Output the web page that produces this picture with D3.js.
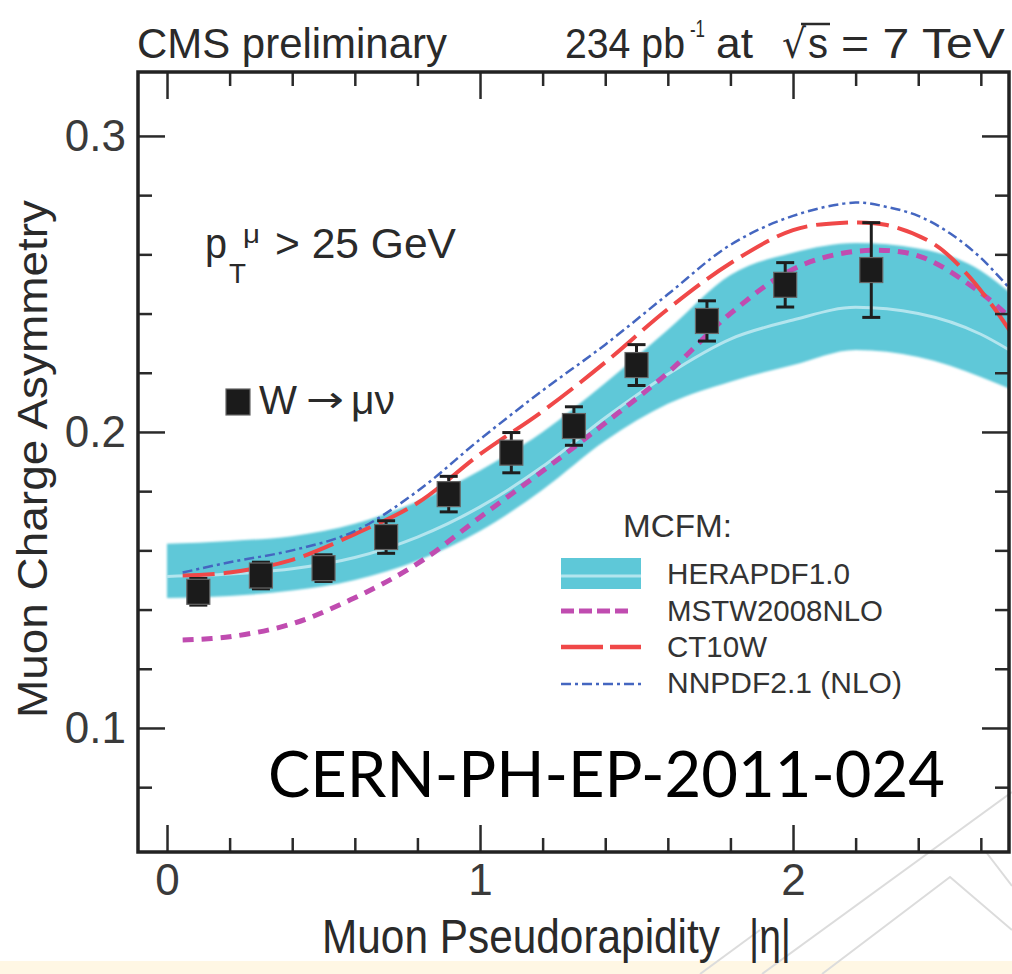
<!DOCTYPE html>
<html><head><meta charset="utf-8">
<script src="https://cdn.jsdelivr.net/npm/d3@7"></script>
<style>
body{margin:0;background:#fff;}
svg{display:block;}
</style>
</head><body>
<svg id="c" width="1012" height="974" font-family="'Liberation Sans',Arial,Helvetica,sans-serif"></svg>
<script>
// ---------------- DATA ----------------
// HERAPDF1.0 band (MCFM)
const bandEta  = [0, 0.2, 0.4, 0.6, 0.8, 1.0, 1.2, 1.4, 1.6, 1.8, 2.0, 2.2, 2.4, 2.6, 2.7];
const bandHigh = [0.1622, 0.1632, 0.1648, 0.1690, 0.1765, 0.1870, 0.2000, 0.2165, 0.2345, 0.2530, 0.2605, 0.2638, 0.2620, 0.2545, 0.2465];
const bandLow  = [0.1439, 0.1446, 0.1464, 0.1500, 0.1565, 0.1665, 0.1805, 0.1970, 0.2095, 0.2170, 0.2226, 0.2277, 0.2253, 0.2186, 0.2142];
const bandMid  = [0.1512, 0.1520, 0.1538, 0.1576, 0.1645, 0.1747, 0.1883, 0.2048, 0.2195, 0.2314, 0.2378, 0.2421, 0.2400, 0.2330, 0.2271];
// MSTW2008NLO
const mstwEta = [0.05, 0.2, 0.4, 0.6, 0.8, 1.0, 1.2, 1.4, 1.6, 1.8, 2.0, 2.2, 2.4, 2.6, 2.7];
const mstwVal = [0.1297, 0.1308, 0.1352, 0.1440, 0.1555, 0.1712, 0.1868, 0.2030, 0.2200, 0.2400, 0.2550, 0.2610, 0.2595, 0.2470, 0.2380];
// CT10W
const ct10Eta = [0.05, 0.2, 0.4, 0.6, 0.8, 1.0, 1.2, 1.4, 1.6, 1.8, 2.0, 2.15, 2.3, 2.45, 2.55, 2.64, 2.7];
const ct10Val = [0.1515, 0.1525, 0.1568, 0.1655, 0.1760, 0.1925, 0.2070, 0.2235, 0.2415, 0.2570, 0.2682, 0.2706, 0.2699, 0.2635, 0.2540, 0.2422, 0.2330];
// NNPDF2.1 (NLO)
const nnEta = [0.05, 0.2, 0.4, 0.6, 0.8, 1.0, 1.2, 1.4, 1.6, 1.8, 2.0, 2.2, 2.3, 2.4, 2.5, 2.6, 2.7];
const nnVal = [0.1525, 0.1560, 0.1600, 0.1665, 0.1800, 0.1975, 0.2140, 0.2295, 0.2465, 0.2632, 0.2730, 0.2775, 0.2760, 0.2730, 0.2672, 0.2588, 0.2475];
// W -> mu nu data
const dataEta = [0.1, 0.3, 0.5, 0.7, 0.9, 1.1, 1.3, 1.5, 1.725, 1.975, 2.25];
const dataVal = [0.1460, 0.1515, 0.1540, 0.1645, 0.1790, 0.1930, 0.2020, 0.2226, 0.2375, 0.2497, 0.2547];
const dataErr = [0.0045, 0.0045, 0.0045, 0.0055, 0.0060, 0.0068, 0.0065, 0.0069, 0.0068, 0.0075, 0.0160];
// ticks
const xMajor = [0, 1, 2];
const xMinor = [0.2, 0.4, 0.6, 0.8, 1.2, 1.4, 1.6, 1.8, 2.2, 2.4, 2.6];
const yMajor = [0.1, 0.2, 0.3];
const yMinor = [0.08, 0.12, 0.14, 0.16, 0.18, 0.22, 0.24, 0.26, 0.28];
const legendNames = ["HERAPDF1.0", "MSTW2008NLO", "CT10W", "NNPDF2.1 (NLO)"];

// ---------------- COLOURS ----------------
const cBand = "#5ec8d8", cBandMid = "#b3e5ee", cMstw = "#c04cb0", cCt10 = "#f04848", cNn = "#4466c0";

const svg = d3.select("#c");
const L = 138, R = 1009, T = 72, B = 852;
const x = d3.scaleLinear().domain([-0.0927, 2.69]).range([L, R]);
const y = d3.scaleLinear().domain([0.0581, 0.3216]).range([B, T]);

// bottom strip
svg.append("rect").attr("x", 0).attr("y", 961).attr("width", 1012).attr("height", 13).attr("fill", "#fff7e4");
// watermark outline (light grey)
const wm = svg.append("g").attr("fill", "none").attr("stroke", "#dcdcdc").attr("stroke-width", 2);
wm.append("path").attr("d", "M762,974 L1012,792");
wm.append("path").attr("d", "M822,974 L950,877 L1012,930");
wm.append("path").attr("d", "M986,852 L1012,886");
wm.append("path").attr("d", "M700,974 L760,930");

const defs = svg.append("defs");
defs.append("clipPath").attr("id", "clip").append("rect")
  .attr("x", L).attr("y", T).attr("width", R - L).attr("height", B - T);
defs.append("filter").attr("id", "soft").append("feGaussianBlur").attr("stdDeviation", 0.9);

const plot = svg.append("g").attr("clip-path", "url(#clip)");

// band
const idx = d3.range(bandEta.length);
plot.append("path").datum(idx)
  .attr("d", d3.area().x(i => x(bandEta[i])).y0(i => y(bandLow[i])).y1(i => y(bandHigh[i])).curve(d3.curveMonotoneX))
  .attr("fill", cBand).attr("filter", "url(#soft)");
plot.append("path").datum(idx)
  .attr("d", d3.line().x(i => x(bandEta[i])).y(i => y(bandMid[i])).curve(d3.curveMonotoneX))
  .attr("fill", "none").attr("stroke", cBandMid).attr("stroke-width", 3);

function curve(etas, vals, color, w, dash) {
  plot.append("path").datum(d3.range(etas.length))
    .attr("d", d3.line().x(i => x(etas[i])).y(i => y(vals[i])).curve(d3.curveCatmullRom))
    .attr("fill", "none").attr("stroke", color).attr("stroke-width", w)
    .attr("stroke-dasharray", dash);
}
curve(mstwEta, mstwVal, cMstw, 5, "11,8");
curve(ct10Eta, ct10Val, cCt10, 4, "32,9");
curve(nnEta, nnVal, cNn, 2.5, "10,4,3,4");

// data points
const pts = plot.append("g");
dataEta.forEach((e, i) => {
  const cx = x(e), cy = y(dataVal[i]);
  const y1 = y(dataVal[i] + dataErr[i]), y2 = y(dataVal[i] - dataErr[i]);
  pts.append("line").attr("x1", cx).attr("x2", cx).attr("y1", y1).attr("y2", y2).attr("stroke", "#1e1e1e").attr("stroke-width", 3);
  [y1, y2].forEach(yy => pts.append("line").attr("x1", cx - 9).attr("x2", cx + 9).attr("y1", yy).attr("y2", yy).attr("stroke", "#1e1e1e").attr("stroke-width", 3));
  pts.append("rect").attr("x", cx - 11.5).attr("y", cy - 12.5).attr("width", 23).attr("height", 25)
    .attr("fill", "#1b1b1b").attr("stroke", "#666").attr("stroke-width", 1.2);
});

// axes (ticks inward)
function ax(gen, tx, ty, vals, size, labels) {
  const a = gen.tickValues(vals).tickSize(-size).tickPadding(12);
  if (!labels) a.tickFormat("");
  else a.tickFormat(labels);
  const g = svg.append("g").attr("transform", `translate(${tx},${ty})`).call(a);
  g.select(".domain").remove();
  g.selectAll(".tick line").attr("stroke", "#2a2a2a").attr("stroke-width", 2.5);
  g.selectAll(".tick text").attr("font-size", 44).attr("fill", "#3a3a3a")
    .style("font-family", "'Liberation Sans',Arial,sans-serif");
  return g;
}
ax(d3.axisLeft(y), L, 0, yMajor, 27, d3.format(".1f"));
ax(d3.axisLeft(y), L, 0, yMinor, 14, null);
ax(d3.axisRight(y), R, 0, yMajor, 27, null);
ax(d3.axisRight(y), R, 0, yMinor, 14, null);
ax(d3.axisBottom(x), 0, B, xMajor, 27, d3.format("d"));
ax(d3.axisBottom(x), 0, B, xMinor, 14, null);
ax(d3.axisTop(x), 0, T, xMajor, 27, null);
ax(d3.axisTop(x), 0, T, xMinor, 14, null);

// frame
svg.append("rect").attr("x", L).attr("y", T).attr("width", R - L).attr("height", B - T)
  .attr("fill", "none").attr("stroke", "#222").attr("stroke-width", 3.5);

// ---------------- TEXT ----------------
// text fitted to a target width by a horizontal scale transform
function txt(s, px, py, fs, opts = {}) {
  const t = svg.append("text").attr("x", 0).attr("y", 0).attr("font-size", fs)
    .attr("fill", opts.fill || "#2a2a2a").text(s)
    .style("font-family", opts.family || "'Liberation Sans',Arial,sans-serif");
  let sx = 1;
  if (opts.len) {
    const w = t.node().getComputedTextLength();
    if (w > 0) sx = opts.len / w;
  }
  const rot = opts.rotate ? ` rotate(${opts.rotate})` : "";
  if (opts.anchor) t.attr("text-anchor", opts.anchor);
  t.attr("transform", `translate(${px},${py})${rot} scale(${sx},1)`);
  return t;
}
// header
txt("CMS preliminary", 137, 58, 42, { len: 310 });
txt("234 pb", 565, 58, 42, { len: 120 });
txt("-1", 690, 37, 24, { len: 15 });
txt("at", 716, 58, 42, { len: 37 });
txt("\u221A", 782, 58, 40, { len: 24, family: "'DejaVu Sans',sans-serif" });
svg.append("line").attr("x1", 801).attr("x2", 830).attr("y1", 24).attr("y2", 24).attr("stroke", "#2a2a2a").attr("stroke-width", 2.5);
txt("s", 808, 58, 42, { len: 20 });
txt("= 7 TeV", 841, 58, 42, { len: 164 });

// axis titles
txt("Muon Charge Asymmetry", 47, 459, 42, { len: 518, rotate: -90, anchor: "middle" });
txt("Muon Pseudorapidity", 322, 953, 48, { len: 398 });
txt("|\u03B7|", 749, 953, 48, { len: 42 });

// annotations
txt("p", 205, 258, 42, { len: 22 });
txt("T", 229, 283, 28, { len: 17 });
txt("\u03BC", 243, 243, 26, { len: 17 });
txt("> 25 GeV", 275, 258, 42, { len: 181 });

svg.append("rect").attr("x", 226).attr("y", 389).attr("width", 24).attr("height", 26).attr("fill", "#1b1b1b").attr("stroke", "#666").attr("stroke-width", 1.2);
txt("W", 259, 414, 40, { len: 38 });
txt("\u2192", 306, 412, 36, { len: 38, family: "'DejaVu Sans',sans-serif" });
txt("\u03BC\u03BD", 351, 414, 40, { len: 44 });

// legend
txt("MCFM:", 623, 537, 32, { len: 109, fill: "#333" });
const lx1 = 561, lx2 = 641;
svg.append("rect").attr("x", lx1).attr("y", 558).attr("width", lx2 - lx1).attr("height", 31).attr("fill", cBand);
svg.append("line").attr("x1", lx1).attr("x2", lx2).attr("y1", 576).attr("y2", 576).attr("stroke", cBandMid).attr("stroke-width", 3);
svg.append("line").attr("x1", lx1).attr("x2", 633).attr("y1", 611).attr("y2", 611).attr("stroke", cMstw).attr("stroke-width", 5).attr("stroke-dasharray", "13,5");
svg.append("line").attr("x1", lx1).attr("x2", lx2).attr("y1", 647).attr("y2", 647).attr("stroke", cCt10).attr("stroke-width", 4.5).attr("stroke-dasharray", "42,7");
svg.append("line").attr("x1", lx1).attr("x2", lx2).attr("y1", 684).attr("y2", 684).attr("stroke", cNn).attr("stroke-width", 2.5).attr("stroke-dasharray", "10,4,3,4");
const legY = [584, 621, 657, 693], legLen = [183, 216, 100, 235];
legendNames.forEach((n, i) => txt(n, 667, legY[i], 30, { len: legLen[i], fill: "#333" }));

// report number
txt("CERN-PH-EP-2011-024", 268, 797, 64, { len: 677, fill: "#000", family: "Lato,'Open Sans',sans-serif" });
</script>
</body></html>
